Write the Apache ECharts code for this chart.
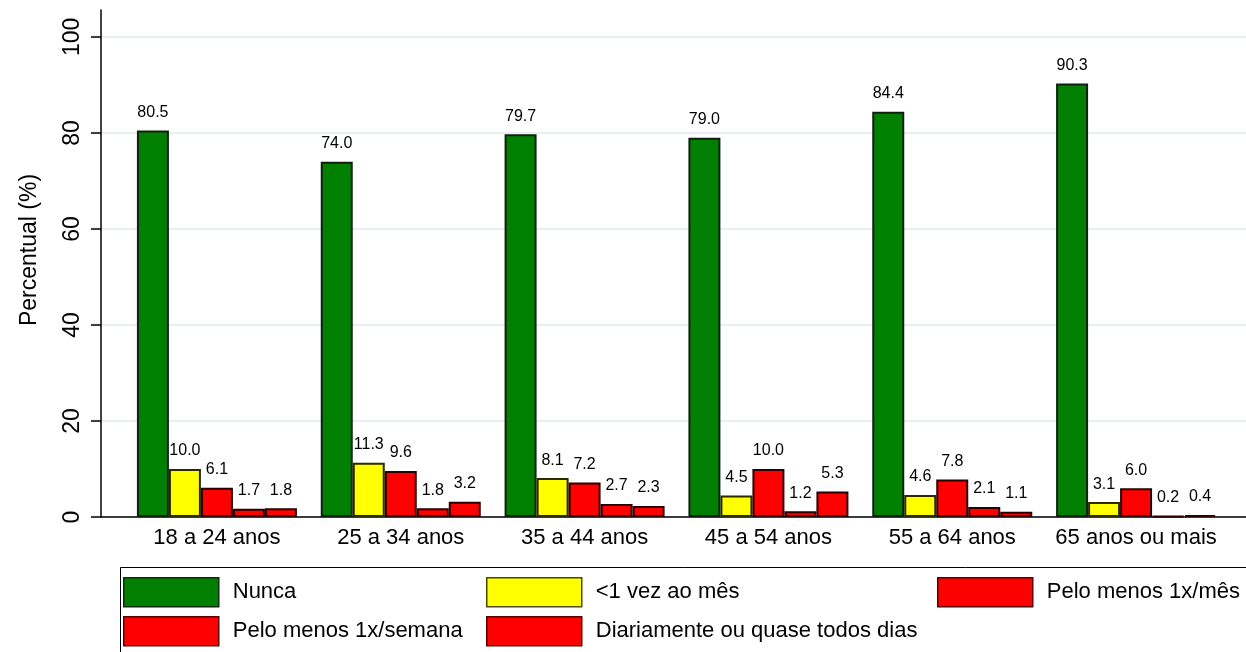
<!DOCTYPE html>
<html>
<head>
<meta charset="utf-8">
<script src="https://cdn.jsdelivr.net/npm/echarts@6/dist/echarts.min.js"></script>
<style>
  html, body { margin: 0; padding: 0; background: #fff; }
  #chart { width: 1246px; height: 652px; }
</style>
</head>
<body>
<div id="chart"></div>
<script>
// Faixas etárias
const categories = ['18 a 24 anos', '25 a 34 anos', '35 a 44 anos', '45 a 54 anos', '55 a 64 anos', '65 anos ou mais'];

// Frequência (%) por faixa etária
const nunca        = [80.5, 74.0, 79.7, 79.0, 84.4, 90.3];
const menosUmaMes  = [10.0, 11.3, 8.1, 4.5, 4.6, 3.1];
const umaMes       = [6.1, 9.6, 7.2, 10.0, 7.8, 6.0];
const umaSemana    = [1.7, 1.8, 2.7, 1.2, 2.1, 0.2];
const diariamente  = [1.8, 3.2, 2.3, 5.3, 1.1, 0.4];

const seriesNames = ['Nunca', '<1 vez ao mês', 'Pelo menos 1x/mês', 'Pelo menos 1x/semana', 'Diariamente ou quase todos dias'];
const seriesData = [nunca, menosUmaMes, umaMes, umaSemana, diariamente];

const yTicks = [0, 20, 40, 60, 80, 100];
const yTitle = 'Percentual (%)';

const fills = ['#007f00', '#ffff00', '#ff0000', '#ff0000', '#ff0000'];
const borders = ['#102010', '#2a2a00', '#2a0000', '#2a0000', '#2a0000'];
const legendBorders = ['#0f2a0f', '#4a4a00', '#5a0000', '#5a0000', '#5a0000'];

const FONT = '"Liberation Sans", Arial, sans-serif';
const Y_MAX = 105.6;

const chart = echarts.init(document.getElementById('chart'), null, { renderer: 'canvas' });

// Legend slots: one legend component per entry, laid out in two rows
const legendSlots = [
  { left: 123, top: 577 },
  { left: 486, top: 577 },
  { left: 937, top: 577 },
  { left: 123, top: 616 },
  { left: 486, top: 616 }
];

const option = {
  backgroundColor: '#ffffff',
  animation: false,
  textStyle: { fontFamily: FONT },
  grid: [
    // frame grid: axis lines, ticks and gridlines
    { left: 101, right: 0, top: 10, bottom: 135 },
    // bar grid: inset to leave outer gaps on both sides
    { left: 125, width: 1103, top: 10, bottom: 135 }
  ],
  xAxis: [
    {
      type: 'category', gridIndex: 0, data: categories,
      axisLine: { show: true, lineStyle: { color: '#000', width: 1.5 } },
      axisTick: { show: false }, axisLabel: { show: false }, splitLine: { show: false }
    },
    {
      type: 'category', gridIndex: 1, data: categories,
      axisLine: { show: false }, axisTick: { show: false },
      axisLabel: { interval: 0, color: '#000', fontSize: 22, fontFamily: FONT, margin: 10 }
    }
  ],
  yAxis: [
    {
      type: 'value', gridIndex: 0, min: 0, max: Y_MAX,
      axisLine: { show: true, lineStyle: { color: '#000', width: 1.5 } },
      axisTick: { show: true, length: 10, customValues: yTicks, lineStyle: { color: '#000', width: 1.5 } },
      axisLabel: { customValues: yTicks, rotate: 90, fontSize: 23, color: '#000', fontFamily: FONT, margin: 17 },
      splitLine: { show: true, lineStyle: { color: '#e8eff2', width: 2 } }
    },
    {
      type: 'value', gridIndex: 1, min: 0, max: Y_MAX,
      axisLine: { show: false }, axisTick: { show: false }, axisLabel: { show: false }, splitLine: { show: false }
    }
  ],
  legend: legendSlots.map((slot, i) => ({
    data: [seriesNames[i]],
    left: slot.left, top: slot.top,
    padding: 0,
    orient: 'horizontal',
    icon: 'rect',
    itemWidth: 95, itemHeight: 29,
    selectedMode: false,
    itemStyle: { borderWidth: 1.5, borderColor: legendBorders[i] },
    textStyle: { fontSize: 22, color: '#000', fontFamily: FONT, padding: [0, 0, 0, 9] }
  })),
  graphic: [
    {
      type: 'rect', left: 118, top: 565, silent: true,
      shape: { width: 1127, height: 120 },
      style: { fill: 'none', stroke: '#000', lineWidth: 1 }
    },
    {
      type: 'text', x: 30, y: 250, rotation: Math.PI / 2, silent: true,
      style: { text: yTitle, fill: '#000', font: '23px ' + FONT, textAlign: 'center', textVerticalAlign: 'middle' }
    }
  ],
  series: seriesNames.map((name, i) => ({
    name: name,
    type: 'bar',
    xAxisIndex: 1, yAxisIndex: 1,
    data: seriesData[i],
    barWidth: 32,
    barGap: '0%',
    itemStyle: { color: fills[i], borderColor: borders[i], borderWidth: 2 },
    label: {
      show: true, position: 'top', distance: 10,
      fontSize: 16, color: '#000', fontFamily: FONT,
      formatter: p => p.value.toFixed(1)
    }
  }))
};

chart.setOption(option);
</script>
</body>
</html>
